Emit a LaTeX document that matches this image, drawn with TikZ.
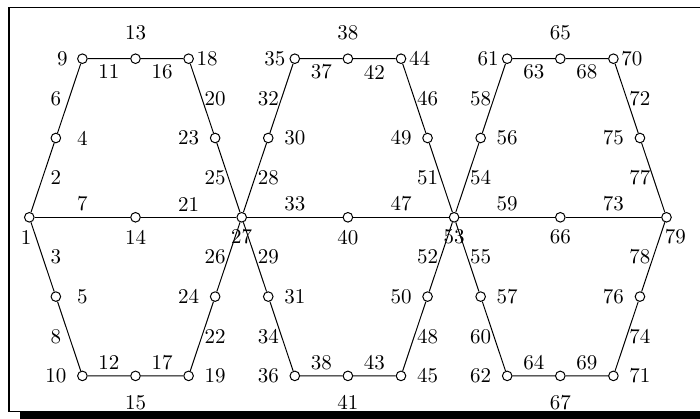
\documentclass[tikz,border=0pt]{standalone}
\usepackage{tikz}
\usetikzlibrary{backgrounds}

\begin{document}
\begin{tikzpicture}[xscale=0.4666, yscale=0.6968,
    vert/.style={circle, draw, line width=0.5pt, fill=white, inner sep=0pt, minimum size=4.8pt},
    num/.style={inner sep=0pt, font=\fontsize{10.5pt}{12pt}\selectfont},
    link/.style={line width=0.5pt}]
  \useasboundingbox (-1.1036,-5.087) rectangle (25.262,5.4805);
  % Vertices: name/x/y/label x/label y
  \foreach \n/\x/\y/\lx/\ly in {
    1/0/0/-0.12/-0.5, 4/1/2/2/2, 5/1/-2/2/-2, 9/2/4/1.25/4, 10/2/-4/1/-4,
    13/4/4/4/4.667, 14/4/0/4/-0.5, 15/4/-4/4/-4.667, 18/6/4/6.7/4, 19/6/-4/7/-4,
    23/7/2/6/2, 24/7/-2/6/-2, 27/8/0/8/-0.5,
    30/9/2/10/2, 31/9/-2/10/-2, 35/10/4/9.25/4, 36/10/-4/9/-4,
    38/12/4/12/4.667, 40/12/0/12/-0.5, 41/12/-4/12/-4.667, 44/14/4/14.7/4, 45/14/-4/15/-4,
    49/15/2/14/2, 50/15/-2/14/-2, 53/16/0/16/-0.5,
    56/17/2/18/2, 57/17/-2/18/-2, 61/18/4/17.28/4, 62/18/-4/17/-4,
    65/20/4/20/4.667, 66/20/0/20/-0.5, 67/20/-4/20/-4.667, 70/22/4/22.7/4, 71/22/-4/23/-4,
    75/23/2/22/2, 76/23/-2/22/-2, 79/24/0/24.33/-0.5%
  } {
    \node[vert] (v\n) at (\x,\y) {};
    \node[num] (t\n) at (\lx,\ly) {\n};
  }
  \begin{scope}[on background layer]
    % Frame with shadow
    \fill[black] (-0.3654,-4.85) rectangle (26,-5.3);
    \draw[line width=0.8pt, fill=white] (-0.7536,-4.893) rectangle (26,5.296);
    % Edges: from/to/label/label x/label y
    \foreach \a/\b/\t/\lx/\ly in {
      1/4/2/1/1, 4/9/6/1/3, 1/5/3/1/-1, 5/10/8/1/-3, 1/14/7/2/0.333,
      9/13/11/3/3.667, 13/18/16/5/3.667, 10/15/12/3/-3.667, 15/19/17/5/-3.667,
      14/27/21/6/0.333, 18/23/20/7/3, 23/27/25/7/1, 27/24/26/7/-1, 24/19/22/7/-3,
      27/30/28/9/1, 30/35/32/9/3, 35/38/37/11/3.667, 38/44/42/13/3.667,
      44/49/46/15/3, 49/53/51/15/1, 27/40/33/10/0.333, 40/53/47/14/0.333,
      27/31/29/9/-1, 31/36/34/9/-3, 36/41/38/11/-3.667, 41/45/43/13/-3.667,
      53/50/52/15/-1, 50/45/48/15/-3,
      53/56/54/17/1, 56/61/58/17/3, 61/65/63/19/3.667, 65/70/68/21/3.667,
      70/75/72/23/3, 75/79/77/23/1, 53/66/59/18/0.333, 66/79/73/22/0.333,
      53/57/55/17/-1, 57/62/60/17/-3, 62/67/64/19/-3.667, 67/71/69/21/-3.667,
      79/76/78/23/-1, 76/71/74/23/-3%
    } {
      \draw[link] (v\a) -- (v\b);
      \node[num] (e\t) at (\lx,\ly) {\t};
    }
  \end{scope}
\end{tikzpicture}
\end{document}
